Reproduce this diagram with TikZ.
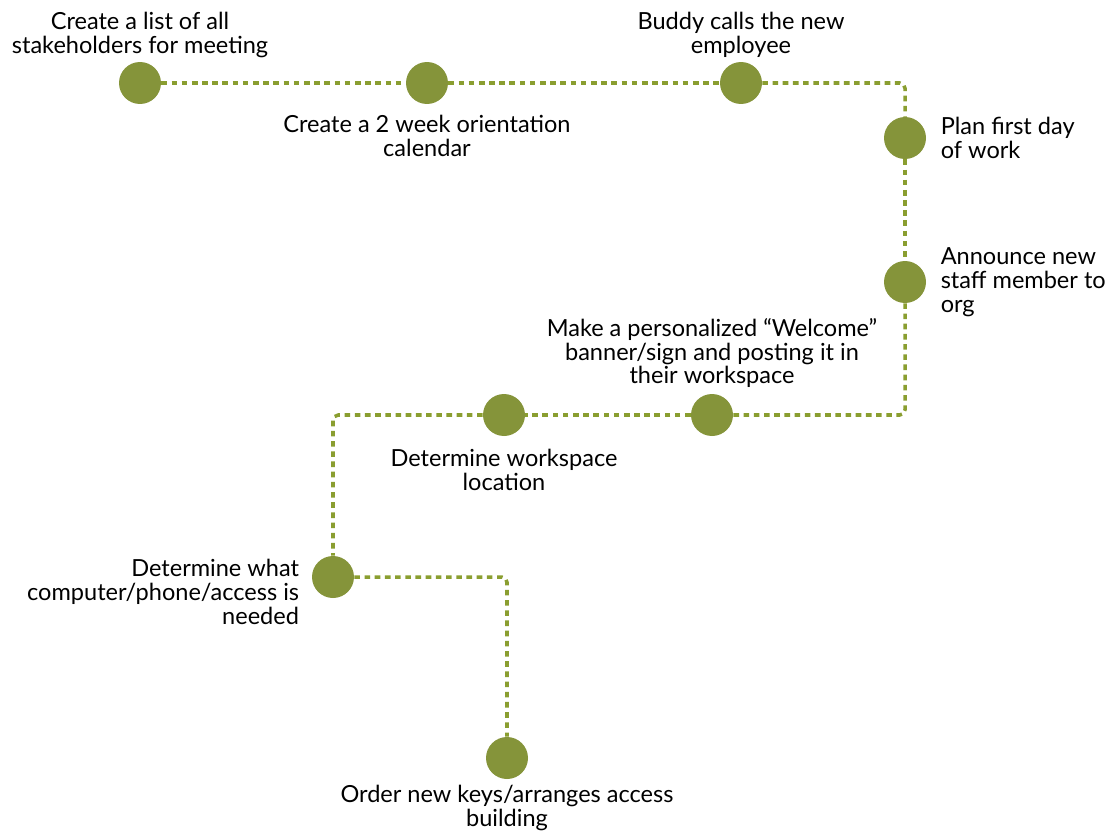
\documentclass[tikz,border=0pt]{standalone}
\usepackage{fontspec}
\setmainfont{Lato}
\usetikzlibrary{positioning}

\definecolor{olivedot}{RGB}{133,148,58}
\definecolor{olivetrack}{RGB}{138,158,48}

\begin{document}
\begin{tikzpicture}[
  x=0.02cm, y=-0.02cm,
  stage/.style={circle, fill=olivedot, minimum size=0.84cm, inner sep=0pt},
  note/.style={align=center, inner sep=2pt, font=\fontsize{13.4}{13.6}\selectfont},
  track/.style={draw=olivetrack, line width=2pt, dash pattern=on 3.2pt off 2.6pt, rounded corners=3pt}
]
\useasboundingbox (0,0) rectangle (1112,835);

% steps
\node[stage] (s1) at (140,83) {};
\node[stage] (s2) at (427,83) {};
\node[stage] (s3) at (741,83) {};
\node[stage] (s4) at (905,138) {};
\node[stage] (s5) at (905,282) {};
\node[stage] (s6) at (712,415) {};
\node[stage] (s7) at (504,415) {};
\node[stage] (s8) at (333,577) {};
\node[stage] (s9) at (507,758) {};

% path between steps
\draw[track] (s1) -- (s2);
\draw[track] (s2) -- (s3);
\draw[track] (s3) -| (s4);
\draw[track] (s4) -- (s5);
\draw[track] (s5) |- (s6);
\draw[track] (s6) -- (s7);
\draw[track] (s7) -| (s8);
\draw[track] (s8) -| (s9);

% labels
\node[note, above=0pt of s1] (t1) {Create a list of all\\stakeholders for meeting};
\node[note, below=4pt of s2] (t2) {Create a 2 week orientation\\calendar};
\node[note, above=0pt of s3] (t3) {Buddy calls the new\\employee};
\node[note, align=left, right=6pt of s4] (t4) {Plan first day\\of work};
\node[note, align=left, right=6pt of s5] (t5) {Announce new\\staff member to\\org};
\node[note, above=1pt of s6] (t6) {Make a personalized “Welcome”\\banner/sign and posting it in\\their workspace};
\node[note, below=5pt of s7] (t7) {Determine workspace\\location};
\node[note, align=right, anchor=north east] (t8) at ([xshift=-5pt]s8.west |- s8.north) {Determine what\\computer/phone/access is\\needed};
\node[note, below=1pt of s9] (t9) {Order new keys/arranges access\\building};

\end{tikzpicture}
\end{document}
